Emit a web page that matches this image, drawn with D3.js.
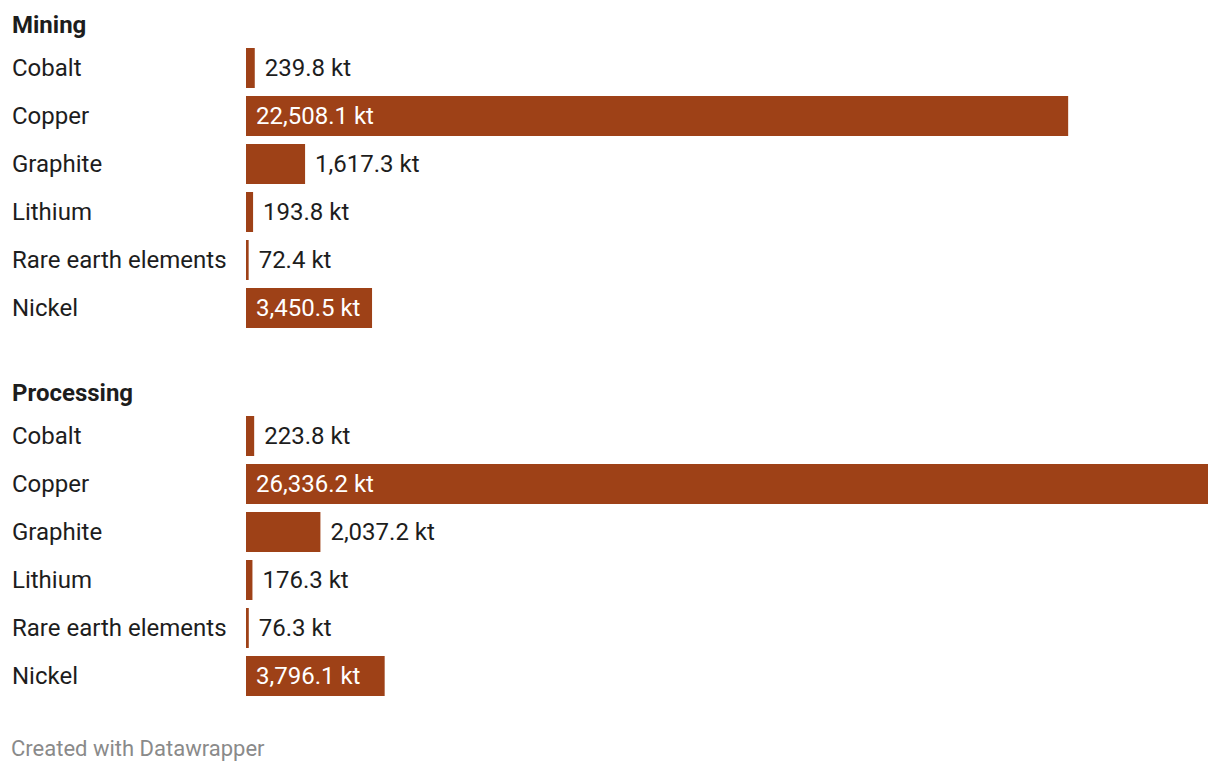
<!DOCTYPE html>
<html><head><meta charset="utf-8">
<script src="https://cdn.jsdelivr.net/npm/d3@7"></script>
<style>body{margin:0;background:#fff;font-family:Roboto,sans-serif}</style>
</head><body><svg id="c" width="1220" height="772"></svg>
<script>
const categories = ["Cobalt","Copper","Graphite","Lithium","Rare earth elements","Nickel"];
const groups = ["Mining","Processing"];
const miningValues = [239.8,22508.1,1617.3,193.8,72.4,3450.5];
const processingValues = [223.8,26336.2,2037.2,176.3,76.3,3796.1];
const seriesValues = [miningValues, processingValues];

const svg = d3.select("#c");
const color = "#9e4117";
const x = d3.scaleLinear().domain([0, d3.max(processingValues.concat(miningValues))]).range([246, 1208]);
const fmt = v => d3.format(",.1f")(v) + " kt";
const rowH = 48;
const groupTop = [0, 368];
const fs = 24;

groups.forEach((g, gi) => {
  const top = groupTop[gi];
  svg.append("text").attr("x", 12).attr("y", top + 32.5).attr("font-size", fs)
    .attr("font-weight", 700).attr("fill", "#1d1d1d").text(g);
  const y = d3.scaleBand().domain(categories).range([top + 44, top + 44 + rowH * categories.length]).paddingInner(8/48).paddingOuter(4/48);
  const rows = svg.append("g").selectAll("g").data(categories.map((c, i) => ({c, v: seriesValues[gi][i]}))).join("g");
  rows.append("text").attr("x", 12).attr("y", d => y(d.c) + y.bandwidth()/2 + 7.8)
    .attr("font-size", fs).attr("fill", "#1d1d1d").text(d => d.c);
  rows.append("rect").attr("x", x(0)).attr("y", d => y(d.c)).attr("height", y.bandwidth())
    .attr("width", d => Math.max(2, x(d.v) - x(0))).attr("fill", color);
  rows.append("text").attr("font-size", fs).attr("y", d => y(d.c) + y.bandwidth()/2 + 7.8)
    .text(d => fmt(d.v))
    .each(function(d) {
      const t = d3.select(this);
      const w = this.getComputedTextLength();
      const bw = Math.max(2, x(d.v) - x(0));
      if (w + 20 <= bw) t.attr("x", x(0) + 10).attr("fill", "#fff");
      else t.attr("x", x(0) + bw + 10).attr("fill", "#1d1d1d");
    });
});

svg.append("text").attr("x", 11).attr("y", 755.5).attr("font-size", 22).attr("fill", "#8a8a8a").text("Created with Datawrapper");
</script></body></html>
